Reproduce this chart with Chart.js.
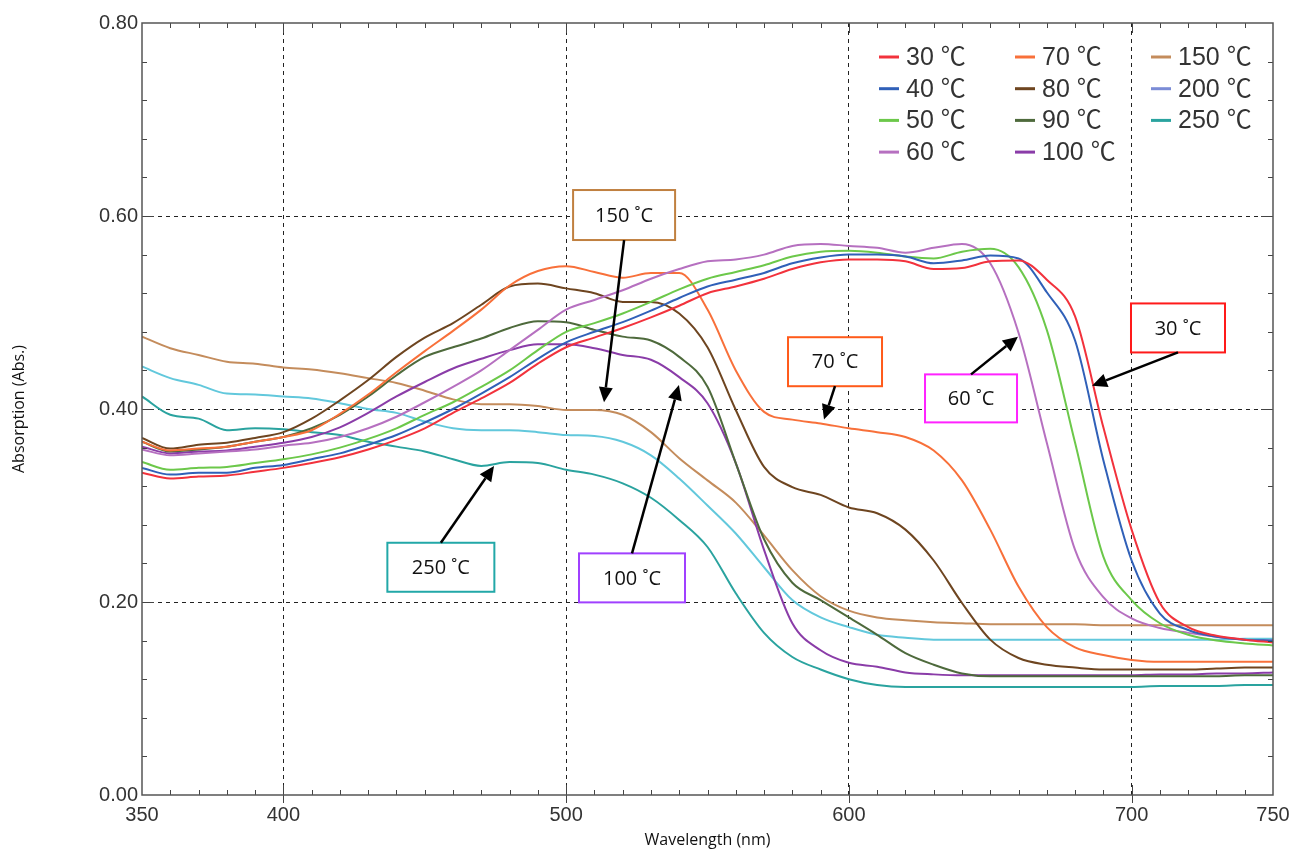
<!DOCTYPE html>
<html>
<head>
<meta charset="utf-8">
<script src="https://cdn.jsdelivr.net/npm/chart.js@4.4.0/dist/chart.umd.min.js"></script>
<style>
  html, body { margin: 0; padding: 0; background: #fff; }
  #wrap { width: 1293px; height: 850px; }
</style>
</head>
<body>
<div id="wrap"><canvas id="spectra"></canvas></div>
<script>
// wavelength grid (nm)
const wavelengths = [350,360,370,380,390,400,410,420,430,440,450,460,470,480,490,500,510,520,530,540,550,
                     560,570,580,590,600,610,620,630,640,650,660,670,680,690,700,710,720,730,740,750];

// absorbance, one array per temperature
const s30  = [0.334,0.328,0.330,0.331,0.335,0.339,0.344,0.350,0.358,0.368,0.380,0.396,0.411,0.427,0.447,0.464,0.474,0.484,0.495,0.507,0.520,
              0.527,0.535,0.545,0.552,0.555,0.555,0.553,0.545,0.546,0.553,0.554,0.534,0.496,0.381,0.275,0.199,0.174,0.165,0.161,0.158];
const s40  = [0.339,0.332,0.334,0.334,0.339,0.342,0.348,0.354,0.363,0.373,0.386,0.400,0.416,0.433,0.452,0.469,0.480,0.490,0.502,0.515,0.527,
              0.534,0.541,0.551,0.557,0.560,0.560,0.558,0.551,0.554,0.559,0.556,0.521,0.471,0.347,0.243,0.188,0.171,0.164,0.161,0.160];
const s50  = [0.345,0.337,0.339,0.340,0.344,0.348,0.353,0.360,0.369,0.380,0.394,0.407,0.423,0.440,0.461,0.480,0.489,0.499,0.511,0.524,0.535,
              0.542,0.549,0.558,0.563,0.564,0.562,0.558,0.556,0.563,0.566,0.547,0.482,0.365,0.247,0.202,0.178,0.166,0.160,0.157,0.155];
const s60  = [0.358,0.352,0.354,0.356,0.358,0.362,0.365,0.371,0.380,0.392,0.407,0.423,0.440,0.461,0.482,0.503,0.513,0.523,0.535,0.545,0.553,
              0.555,0.560,0.569,0.571,0.569,0.567,0.562,0.567,0.571,0.551,0.479,0.365,0.254,0.205,0.183,0.173,0.168,0.164,0.161,0.160];
const s70  = [0.366,0.357,0.359,0.361,0.366,0.371,0.378,0.395,0.415,0.438,0.460,0.481,0.503,0.528,0.543,0.548,0.542,0.536,0.541,0.541,0.503,
              0.440,0.397,0.389,0.385,0.380,0.376,0.371,0.357,0.326,0.275,0.216,0.174,0.153,0.145,0.140,0.138,0.138,0.138,0.138,0.138];
const s80  = [0.370,0.359,0.363,0.365,0.370,0.376,0.390,0.409,0.430,0.454,0.474,0.489,0.508,0.527,0.530,0.525,0.520,0.511,0.511,0.499,0.464,
              0.399,0.340,0.319,0.311,0.298,0.292,0.275,0.243,0.199,0.161,0.142,0.135,0.132,0.130,0.130,0.130,0.130,0.131,0.132,0.132];
const s90  = [0.366,0.356,0.358,0.361,0.366,0.371,0.380,0.394,0.413,0.435,0.454,0.464,0.473,0.484,0.491,0.490,0.482,0.475,0.471,0.454,0.423,
              0.344,0.265,0.220,0.202,0.184,0.166,0.147,0.135,0.126,0.123,0.123,0.123,0.123,0.123,0.123,0.123,0.123,0.123,0.124,0.124];
const s100 = [0.361,0.354,0.356,0.357,0.361,0.365,0.371,0.381,0.396,0.413,0.428,0.442,0.452,0.461,0.467,0.467,0.463,0.456,0.451,0.433,0.406,
              0.344,0.254,0.178,0.150,0.137,0.133,0.127,0.125,0.124,0.124,0.124,0.124,0.124,0.124,0.124,0.125,0.125,0.126,0.126,0.127];
const s150 = [0.475,0.463,0.456,0.449,0.447,0.443,0.441,0.437,0.432,0.427,0.419,0.410,0.405,0.405,0.403,0.399,0.399,0.394,0.376,0.349,0.326,
              0.303,0.269,0.233,0.206,0.191,0.184,0.181,0.179,0.178,0.177,0.177,0.177,0.177,0.176,0.176,0.176,0.176,0.176,0.176,0.176];
const s200 = [0.444,0.432,0.425,0.416,0.415,0.413,0.411,0.406,0.400,0.396,0.387,0.380,0.378,0.378,0.376,0.373,0.372,0.366,0.352,0.328,0.300,
              0.271,0.236,0.202,0.184,0.174,0.166,0.163,0.161,0.161,0.161,0.161,0.161,0.161,0.161,0.161,0.161,0.161,0.161,0.162,0.162];
const s250 = [0.413,0.394,0.390,0.378,0.380,0.379,0.376,0.373,0.366,0.361,0.356,0.348,0.341,0.345,0.344,0.337,0.332,0.323,0.308,0.285,0.257,
              0.209,0.168,0.143,0.130,0.120,0.114,0.112,0.112,0.112,0.112,0.112,0.112,0.112,0.112,0.112,0.113,0.113,0.113,0.114,0.114];

const xTickValues = [350, 400, 500, 600, 700, 750];

// name, values, line colour, legend swatch colour
const series = [
  ['30 ℃',  s30,  '#f2323c', '#f2323c'],
  ['40 ℃',  s40,  '#3060b8', '#3060b8'],
  ['50 ℃',  s50,  '#6cc84a', '#6cc84a'],
  ['60 ℃',  s60,  '#b670c0', '#b670c0'],
  ['70 ℃',  s70,  '#f8703a', '#f8703a'],
  ['80 ℃',  s80,  '#6e4520', '#6e4520'],
  ['90 ℃',  s90,  '#4e6a3c', '#4e6a3c'],
  ['100 ℃', s100, '#8a3ca8', '#8a3ca8'],
  ['150 ℃', s150, '#c48c5c', '#c48c5c'],
  ['200 ℃', s200, '#62c8dc', '#7b8cd6'],
  ['250 ℃', s250, '#2aa39f', '#2aa39f']
];

// call-out boxes: centre in data units, size in px, arrow to a data point
const notes = [
  { text: '150 ˚C', color: '#c08040', cx: 520.5, cy: 0.601, w: 102, h: 50, side: 'bottom', tx: 513.4, ty: 0.407 },
  { text: '70 ˚C',  color: '#ff5a1a', cx: 595.1, cy: 0.449, w: 94,  h: 49, side: 'bottom', tx: 591.2, ty: 0.389 },
  { text: '60 ˚C',  color: '#ff22ff', cx: 643.2, cy: 0.411, w: 92,  h: 48, side: 'top',    tx: 659.8, ty: 0.475 },
  { text: '30 ˚C',  color: '#ff1a1a', cx: 716.4, cy: 0.484, w: 94,  h: 49, side: 'bottom', tx: 686.0, ty: 0.424 },
  { text: '250 ˚C', color: '#22a8a8', cx: 455.7, cy: 0.236, w: 107, h: 49, side: 'top',    tx: 474.5, ty: 0.341 },
  { text: '100 ˚C', color: '#a040ff', cx: 523.3, cy: 0.225, w: 106, h: 49, side: 'top',    tx: 539.9, ty: 0.425 }
];

// box frame with inward ticks
const frameTicks = {
  id: 'frameTicks',
  afterDraw(chart) {
    const { ctx, chartArea: a, scales: { x, y } } = chart;
    ctx.save();
    ctx.strokeStyle = '#444';
    ctx.lineWidth = 1;
    ctx.beginPath();
    for (let v = 360; v < 750; v += 10) {
      const px = Math.round(x.getPixelForValue(v)) + 0.5;
      const major = xTickValues.includes(v);
      const len = major ? 10 : 5;
      ctx.moveTo(px, a.bottom + (major ? 8 : 0)); ctx.lineTo(px, a.bottom - len);
      ctx.moveTo(px, a.top); ctx.lineTo(px, a.top + len);
    }
    for (let i = 1; i < 20; i++) {
      const v = i * 0.04;
      const py = Math.round(y.getPixelForValue(v)) + 0.5;
      const len = (i % 5 === 0) ? 12 : 5;
      ctx.moveTo(a.left, py); ctx.lineTo(a.left + len, py);
      ctx.moveTo(a.right, py); ctx.lineTo(a.right - len, py);
    }
    ctx.stroke();
    ctx.lineWidth = 1.5;
    ctx.strokeStyle = '#555';
    ctx.strokeRect(a.left, a.top, a.right - a.left, a.bottom - a.top);
    ctx.restore();
  }
};

// three-column legend, top right
const columnLegend = {
  id: 'columnLegend',
  afterDraw(chart) {
    const { ctx } = chart;
    const cols = [[0, 1, 2, 3], [4, 5, 6, 7], [8, 9, 10]];
    const colX = [879, 1015, 1151];
    ctx.save();
    ctx.font = '25px "Liberation Sans", "Noto Sans CJK JP", sans-serif';
    ctx.textBaseline = 'middle';
    cols.forEach((col, c) => {
      col.forEach((idx, r) => {
        const yy = 57 + r * 31.7;
        ctx.strokeStyle = series[idx][3];
        ctx.lineWidth = 3;
        ctx.beginPath();
        ctx.moveTo(colX[c], yy); ctx.lineTo(colX[c] + 20, yy);
        ctx.stroke();
        ctx.fillStyle = '#333';
        ctx.fillText(series[idx][0], colX[c] + 27, yy + 1);
      });
    });
    ctx.restore();
  }
};

// labelled boxes with arrows
const callouts = {
  id: 'callouts',
  afterDraw(chart) {
    const { ctx, scales: { x, y } } = chart;
    ctx.save();
    notes.forEach(n => {
      const cx = x.getPixelForValue(n.cx), cy = y.getPixelForValue(n.cy);
      const l = cx - n.w / 2, t = cy - n.h / 2;
      ctx.fillStyle = '#fff';
      ctx.fillRect(l, t, n.w, n.h);
      ctx.strokeStyle = n.color;
      ctx.lineWidth = 2;
      ctx.strokeRect(l, t, n.w, n.h);
      ctx.fillStyle = '#111';
      ctx.font = '20px "Open Sans", sans-serif';
      ctx.textAlign = 'center';
      ctx.textBaseline = 'middle';
      ctx.fillText(n.text, cx, cy + 1);

      const sx = cx, sy = n.side === 'top' ? t : t + n.h;
      const ex = x.getPixelForValue(n.tx), ey = y.getPixelForValue(n.ty);
      const ang = Math.atan2(ey - sy, ex - sx);
      const head = 15, half = 7;
      const bx = ex - head * Math.cos(ang), by = ey - head * Math.sin(ang);
      ctx.strokeStyle = '#000';
      ctx.lineWidth = 2.5;
      ctx.beginPath();
      ctx.moveTo(sx, sy); ctx.lineTo(bx, by);
      ctx.stroke();
      ctx.fillStyle = '#000';
      ctx.beginPath();
      ctx.moveTo(ex, ey);
      ctx.lineTo(bx + half * Math.sin(ang), by - half * Math.cos(ang));
      ctx.lineTo(bx - half * Math.sin(ang), by + half * Math.cos(ang));
      ctx.closePath();
      ctx.fill();
    });
    ctx.restore();
  }
};

const tickFont = { family: '"Liberation Sans", Arial, sans-serif', size: 20 };
const titleFont = { family: '"Open Sans", sans-serif', size: 16 };
const edgeClear = (ctx, lo, hi) =>
  (ctx.tick && (Math.abs(ctx.tick.value - lo) < 1e-6 || Math.abs(ctx.tick.value - hi) < 1e-6)) ? 'rgba(0,0,0,0)' : '#222';

new Chart(document.getElementById('spectra'), {
  type: 'line',
  data: {
    datasets: series.map(([name, vals, color]) => ({
      label: name,
      data: wavelengths.map((w, i) => ({ x: w, y: vals[i] })),
      borderColor: color,
      backgroundColor: color,
      borderWidth: 2,
      pointRadius: 0,
      fill: false,
      cubicInterpolationMode: 'monotone'
    }))
  },
  options: {
    responsive: true,
    maintainAspectRatio: false,
    animation: false,
    layout: { padding: { top: 23, right: 20, left: 0, bottom: 0 } },
    plugins: {
      legend: { display: false },
      tooltip: { enabled: false }
    },
    scales: {
      x: {
        type: 'linear',
        min: 350,
        max: 750,
        afterBuildTicks: s => { s.ticks = xTickValues.map(v => ({ value: v })); },
        afterFit: s => { s.height = 55; s.paddingLeft = 0; s.paddingRight = 0; },
        grid: { color: c => edgeClear(c, 350, 750), lineWidth: 1, drawTicks: false },
        border: { display: false, dash: [4, 4] },
        ticks: { font: tickFont, color: '#333', padding: 8, maxRotation: 0, callback: v => String(v) },
        title: { display: true, text: 'Wavelength (nm)', font: titleFont, color: '#111', padding: { top: 0, bottom: 0 } }
      },
      y: {
        min: 0,
        max: 0.8,
        ticks: { stepSize: 0.2, font: tickFont, color: '#333', padding: 4, callback: v => v.toFixed(2) },
        afterFit: s => { s.width = 142; s.paddingTop = 0; s.paddingBottom = 0; },
        grid: { color: c => edgeClear(c, 0, 0.8), lineWidth: 1, drawTicks: false },
        border: { display: false, dash: [4, 4] },
        title: { display: true, text: 'Absorption (Abs.)', font: titleFont, color: '#111', padding: { top: 10, bottom: 0 } }
      }
    }
  },
  plugins: [frameTicks, columnLegend, callouts]
});
</script>
</body>
</html>
